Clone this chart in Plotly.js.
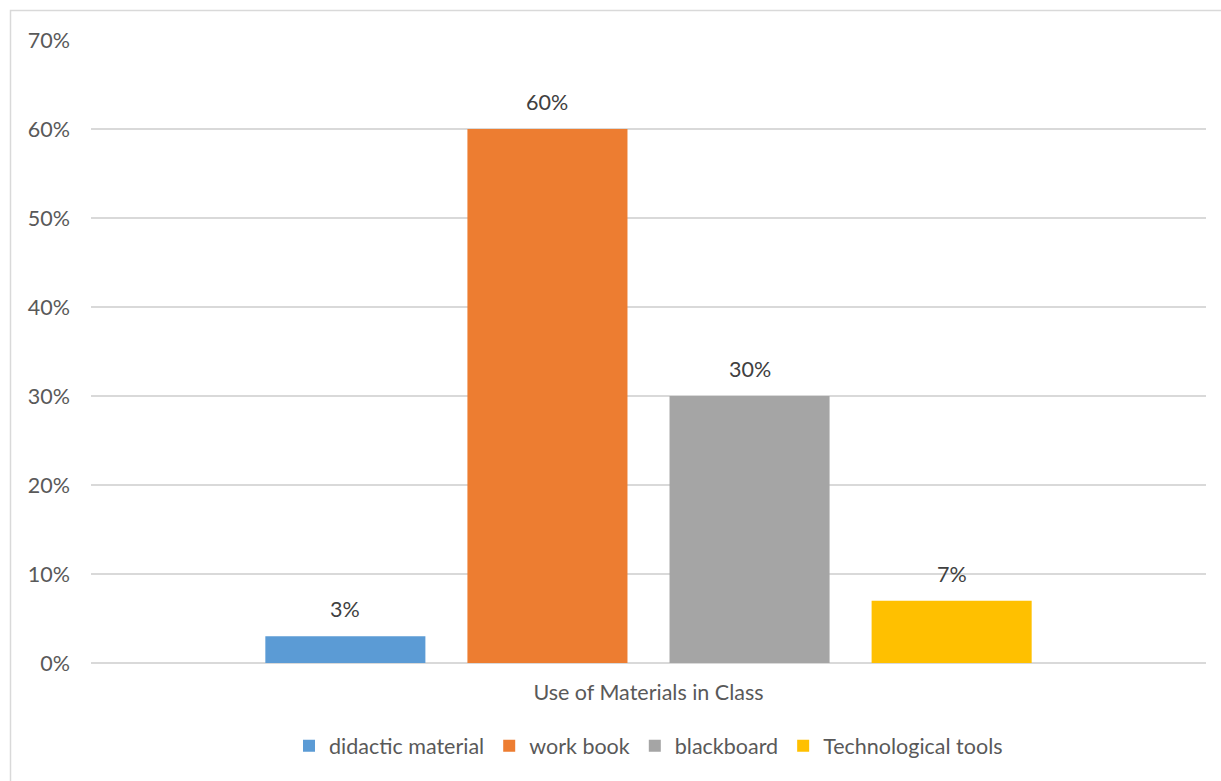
<!DOCTYPE html>
<html>
<head>
<meta charset="utf-8">
<script src="https://cdn.plot.ly/plotly-3.0.1.min.js"></script>
<style>
  html, body { margin: 0; padding: 0; background: #fff; }
  #chart { width: 1221px; height: 781px; }
</style>
</head>
<body>
<div id="chart"></div>
<script>
// Share of class time each material is used
const category = ["Use of Materials in Class"];
const seriesNames = ["didactic material", "work book", "blackboard", "Technological tools"];
const seriesValues = [0.03, 0.60, 0.30, 0.07];
const seriesColors = ["#5B9BD5", "#ED7D31", "#A5A5A5", "#FFC000"];
const tickValues = [0, 0.1, 0.2, 0.3, 0.4, 0.5, 0.6, 0.7];
const tickLabels = ["0%", "10%", "20%", "30%", "40%", "50%", "60%", "70%"];

const W = 1221, H = 781;
const margin = { l: 91, r: 15, t: 40, b: 118 };
const plotW = W - margin.l - margin.r;
const plotH = H - margin.t - margin.b;
const FONT = "Lato, 'Open Sans', sans-serif";
const FSIZE = 21.5;
const BARGAP = 0.275;
const GROUPGAP = 0.208;

const traces = seriesNames.map((name, i) => ({
  type: "bar",
  name: name,
  x: category,
  y: [seriesValues[i]],
  marker: { color: seriesColors[i] },
  hoverinfo: "name+y"
}));

// Value labels floated a little above each bar of the group
const slot = (1 - BARGAP) / seriesNames.length;
const labelAnnotations = seriesValues.map((v, i) => ({
  xref: "x", yref: "y",
  x: -(1 - BARGAP) / 2 + slot * (i + 0.5),
  y: v,
  text: Math.round(v * 100) + "%",
  showarrow: false,
  xanchor: "center",
  yanchor: "bottom",
  yshift: 12,
  font: { family: FONT, size: FSIZE, color: "#404040" }
}));

// Outer chart frame (left and top edges fall inside the page)
const frameLeft = (10.5 - margin.l) / plotW;
const frameTop = 1 + (margin.t - 10.5) / plotH;

const layout = {
  width: W,
  height: H,
  margin: margin,
  paper_bgcolor: "#fff",
  plot_bgcolor: "#fff",
  font: { family: FONT, size: FSIZE, color: "#595959" },
  barmode: "group",
  bargap: BARGAP,
  bargroupgap: GROUPGAP,
  showlegend: true,
  legend: {
    orientation: "h",
    x: 0.5,
    xanchor: "center",
    y: -0.1,
    yanchor: "top",
    font: { family: FONT, size: FSIZE, color: "#595959" },
    itemwidth: 30,
    traceorder: "normal"
  },
  xaxis: {
    showticklabels: false,
    ticks: "",
    showgrid: false,
    showline: false,
    zeroline: false,
    title: { text: category[0], font: { family: FONT, size: FSIZE, color: "#595959" }, standoff: 21 }
  },
  yaxis: {
    range: [0, 0.7],
    tickvals: tickValues,
    ticktext: tickLabels,
    showgrid: true,
    gridcolor: "#D9D9D9",
    gridwidth: 1.5,
    zeroline: true,
    zerolinecolor: "#D9D9D9",
    zerolinewidth: 1.5,
    showline: false,
    ticks: "",
    ticklabelstandoff: 20,
    tickfont: { family: FONT, size: FSIZE, color: "#595959" }
  },
  annotations: labelAnnotations,
  shapes: [
    {
      type: "rect", xref: "paper", yref: "paper",
      x0: frameLeft, x1: 1.2, y0: -0.3, y1: frameTop,
      line: { color: "#D9D9D9", width: 1.5 },
      fillcolor: "rgba(0,0,0,0)",
      layer: "below"
    }
  ]
};

Plotly.newPlot("chart", traces, layout, { displayModeBar: false, staticPlot: true });
</script>
</body>
</html>
